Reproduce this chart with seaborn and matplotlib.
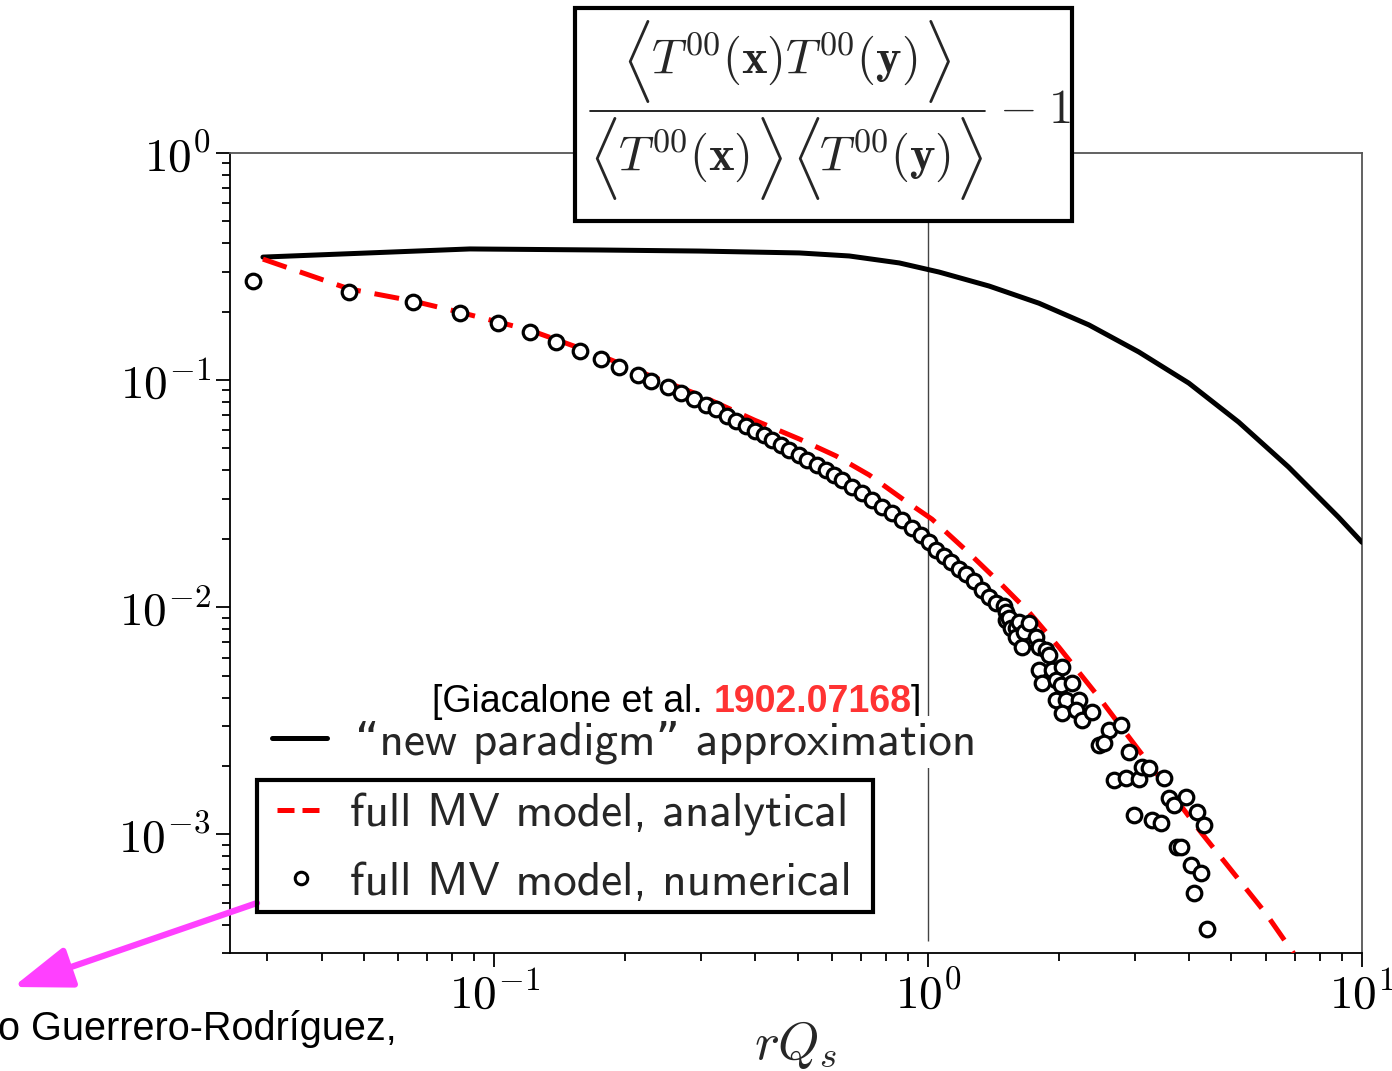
import numpy as np
import pandas as pd
import seaborn as sns
import matplotlib
matplotlib.use("Agg")
import matplotlib.pyplot as plt
from matplotlib.lines import Line2D
from matplotlib.patches import Rectangle
from matplotlib.ticker import FuncFormatter, NullFormatter, LogLocator
from matplotlib.font_manager import FontProperties
from matplotlib.legend_handler import HandlerLine2D

# ---------------- data ----------------
# "new paradigm" approximation (black solid)
np_r = [0.0293, 0.0878, 0.175, 0.297, 0.505, 0.658, 0.858, 1.060, 1.382, 1.801,
        2.347, 3.059, 3.988, 5.197, 6.773, 8.829, 10.0]
np_c = [0.348, 0.378, 0.374, 0.370, 0.363, 0.352, 0.328, 0.299, 0.2595, 0.218,
        0.175, 0.133, 0.0970, 0.0653, 0.0414, 0.0249, 0.0193]

# full MV model, analytical (red dashed)
an_r = [0.0293, 0.0463, 0.0649, 0.0833, 0.1207, 0.176, 0.230, 0.297, 0.398, 0.505,
        0.614, 0.7315, 0.881, 1.021, 1.223, 1.457, 1.708, 2.002, 2.475, 2.901,
        3.492, 4.272, 5.998, 6.955]
an_c = [0.341, 0.252, 0.223, 0.199, 0.166, 0.128, 0.104, 0.0859, 0.0666, 0.0550,
        0.0463, 0.0382, 0.0296, 0.0244, 0.0178, 0.0129, 0.00951, 0.00666, 0.00401, 0.00268,
        0.00168, 0.00101, 0.000449, 0.000299]

# full MV model, numerical (open circles)
num_r = [0.0278, 0.0463, 0.0649, 0.0833, 0.1019, 0.1207, 0.139, 0.158, 0.176, 0.194,
         0.214, 0.230, 0.251, 0.269, 0.288, 0.307, 0.325, 0.343, 0.361, 0.381,
         0.400, 0.419, 0.4375, 0.459, 0.479, 0.505, 0.527, 0.555, 0.582, 0.608,
         0.634, 0.668, 0.705, 0.743, 0.784, 0.826, 0.871, 0.919, 0.964, 1.005,
         1.043, 1.088, 1.129, 1.178, 1.223, 1.276, 1.331, 1.382, 1.434, 1.496,
         1.512, 1.512, 1.536, 1.552, 1.594, 1.594, 1.620, 1.646, 1.663, 1.708,
         1.773, 1.801, 1.869, 1.899, 1.801, 1.929, 2.034, 1.829, 1.970, 2.024,
         2.145, 1.970, 2.078, 2.226, 2.034, 2.191, 2.262, 2.384, 2.610, 2.781,
         2.475, 2.542, 2.901, 2.680, 2.855, 3.059, 3.108, 3.226, 3.492, 3.586,
         3.683, 3.925, 4.160, 4.317, 2.979, 3.278, 3.438, 3.742, 3.821, 4.030,
         4.249, 4.095, 4.386]
num_c = [0.273, 0.244, 0.221, 0.197, 0.178, 0.163, 0.147, 0.134, 0.124, 0.114,
         0.105, 0.0990, 0.0932, 0.0876, 0.0825, 0.0776, 0.0745, 0.0694, 0.0660, 0.0627,
         0.0596, 0.0573, 0.0544, 0.0517, 0.0492, 0.0467, 0.0444, 0.0422, 0.0401, 0.0382,
         0.0363, 0.0338, 0.0318, 0.0296, 0.0276, 0.0260, 0.0242, 0.0223, 0.0208, 0.0193,
         0.0178, 0.0168, 0.0158, 0.0147, 0.0140, 0.0130, 0.0119, 0.0111, 0.0104, 0.0101,
         0.00951, 0.00876, 0.00894, 0.00808, 0.00808, 0.00738, 0.00859, 0.00666, 0.00776, 0.00850,
         0.00738, 0.00666, 0.00646, 0.00615, 0.00528, 0.00528, 0.00544, 0.00463, 0.00477, 0.00453,
         0.00463, 0.00389, 0.00389, 0.00389, 0.00341, 0.00352, 0.00318, 0.00345, 0.00287, 0.00302,
         0.00247, 0.00252, 0.00230, 0.00173, 0.00177, 0.00175, 0.00197, 0.00195, 0.00177, 0.00144,
         0.00134, 0.00146, 0.00125, 0.00110, 0.00121, 0.00115, 0.00112, 0.000876, 0.000876, 0.000730,
         0.000673, 0.000550, 0.000382]

labels = ["\u201cnew paradigm\u201d approximation",
          "full MV model, analytical",
          "full MV model, numerical"]
cite_pre, cite_id, cite_post = "[Giacalone et al. ", "1902.07168", "]"
author_txt = "o Guerrero-Rodr\u00edguez,"
num_tex = r"$T^{00}(\mathbf{x})T^{00}(\mathbf{y})$"
den_x_tex = r"$T^{00}(\mathbf{x})$"
den_y_tex = r"$T^{00}(\mathbf{y})$"
lang_tex, rang_tex = r"$\langle$", r"$\rangle$"
tail_tex = r"$-\;1$"

# ---------------- style ----------------
sns.set_theme(style="ticks")
plt.rcParams["font.family"] = ["DejaVu Sans"]
plt.rcParams["mathtext.fontset"] = "cm"

W, H = 1392, 1071
def fx(px):
    return px / W
def fy(py):
    return 1 - py / H

fig = plt.figure(figsize=(W / 100, H / 100), dpi=100)
fig.patch.set_facecolor("white")
ax = fig.add_axes([fx(230), fy(953), (1362 - 230) / W, (953 - 153) / H])
ax.set_facecolor("white")
ax.set_xscale("log")
ax.set_yscale("log")

df_np = pd.DataFrame({"r": np_r, "c": np_c})
df_an = pd.DataFrame({"r": an_r, "c": an_c})
df_num = pd.DataFrame({"r": num_r, "c": num_c})

ax.vlines(1.0, 3.4e-4, 0.57, colors="#444444", lw=1.0, zorder=1)
sns.lineplot(data=df_np, x="r", y="c", color="black", lw=3.6, ax=ax, zorder=3,
             sort=False, estimator=None)
sns.lineplot(data=df_an, x="r", y="c", color="#ff0000", lw=3.6, ax=ax, zorder=3,
             sort=False, estimator=None, linestyle=(0, (5, 2.8)))
sns.scatterplot(data=df_num, x="r", y="c", marker="o", s=110, color="white",
                edgecolor="black", linewidth=2.3, ax=ax, zorder=4)

ax.set_xlim(0.0246, 10)
ax.set_ylim(3.0e-4, 1.0)

fmt = FuncFormatter(lambda v, p: r"$10^{%d}$" % int(round(np.log10(v))))
for axis in (ax.xaxis, ax.yaxis):
    axis.set_major_locator(LogLocator(base=10, numticks=10))
    axis.set_minor_locator(LogLocator(base=10, subs=np.arange(2, 10), numticks=20))
    axis.set_major_formatter(fmt)
    axis.set_minor_formatter(NullFormatter())
ax.tick_params(which="both", direction="out", top=False, right=False, width=1.3, colors="black")
ax.tick_params(which="major", length=10, labelsize=34)
ax.tick_params(which="minor", length=6)
ax.tick_params(axis="y", which="major", pad=4)
ax.tick_params(axis="x", which="major", pad=4)
for s in ["left", "bottom"]:
    ax.spines[s].set_color("black")
    ax.spines[s].set_linewidth(1.3)
for s in ["top", "right"]:
    ax.spines[s].set_color("#555555")
    ax.spines[s].set_linewidth(1.3)
ax.set_xlabel(r"$rQ_s$", fontsize=38, labelpad=0)
ax.set_ylabel("")

# ---------------- legends ----------------
LFS = 34
em = LFS * 100 / 72
lprop = FontProperties(family=["cmss10", "DejaVu Sans"], size=LFS)
h1 = Line2D([], [], color="black", lw=3.6)
leg1 = ax.legend([h1], [labels[0]], loc="center left",
                 bbox_to_anchor=(fx(272 - 0.1 * em), fy(742)), bbox_transform=fig.transFigure,
                 prop=lprop, frameon=True, fancybox=False, framealpha=1,
                 handlelength=55 / em, handletextpad=28 / em, borderpad=0.1, borderaxespad=0)
leg1.get_frame().set_edgecolor("none")
leg1.get_frame().set_facecolor("white")
ax.add_artist(leg1)

h2 = Line2D([], [], color="#ff0000", lw=3.6, linestyle=(0, (3.4, 1.6)))
h3 = Line2D([], [], ls="none", marker="o", mfc="white", mec="black", mew=2.2, ms=9)
bp = 0.2
xpad = (277 - 257 - bp * em) / em
leg2 = ax.legend([h2, h3], labels[1:], loc="upper left",
                 bbox_to_anchor=(fx(257), fy(784)), bbox_transform=fig.transFigure,
                 prop=lprop, frameon=False,
                 handlelength=(325 - 257 - bp * em) / em, handletextpad=25 / em,
                 borderpad=bp, labelspacing=0.53, borderaxespad=0,
                 handler_map={h2: HandlerLine2D(xpad=xpad), h3: HandlerLine2D(xpad=xpad)})
fig.patches.append(Rectangle((fx(257), fy(912)), (873 - 257) / W, (912 - 780) / H,
                             transform=fig.transFigure, fill=False, ec="black",
                             lw=3, zorder=5))

# ---------------- citation ----------------
t1 = fig.text(fx(432), fy(712), cite_pre, family="Liberation Sans", size=27,
              va="baseline", ha="left", color="black")
t2 = ax.annotate(cite_id, xy=(1, 0), xycoords=t1, va="bottom", ha="left",
                 family="Liberation Sans", size=27, weight="bold", color="#ff3333",
                 annotation_clip=False)
t3 = ax.annotate(cite_post, xy=(1, 0), xycoords=t2, va="bottom", ha="left",
                 family="Liberation Sans", size=27, color="black", annotation_clip=False)

# ---------------- title box ----------------
fig.patches.append(Rectangle((fx(575), fy(221)), 497 / W, 213 / H,
                             transform=fig.transFigure, fc="white", ec="black",
                             lw=3, zorder=5))
TFS = 35
BFS = 50
fig.text(fx(784), fy(73), num_tex, fontsize=TFS, ha="center", va="baseline", zorder=6)
fig.text(fx(684), fy(170), den_x_tex, fontsize=TFS, ha="center", va="baseline", zorder=6)
fig.text(fx(885), fy(170), den_y_tex, fontsize=TFS, ha="center", va="baseline", zorder=6)
for cx, cy, s in [(636, 61.5, lang_tex), (937, 61.5, rang_tex),
                  (603, 158.5, lang_tex), (769, 158.5, rang_tex),
                  (806, 158.5, lang_tex), (969, 158.5, rang_tex)]:
    fig.text(fx(cx), fy(cy), s, fontsize=BFS, ha="center", va="center", zorder=6)
fig.add_artist(Line2D([fx(590), fx(985)], [fy(111), fy(111)], color="black", lw=1.2,
                      transform=fig.transFigure, zorder=6))
fig.text(fx(999), fy(123), tail_tex, fontsize=TFS, ha="left", va="baseline", zorder=6)

# ---------------- arrow + author ----------------
ax.annotate("", xy=(fx(13), fy(987)), xycoords="figure fraction",
            xytext=(fx(257), fy(903)), textcoords="figure fraction",
            arrowprops=dict(arrowstyle="-|>,head_length=0.9,head_width=0.32",
                            color="#ff40ff", lw=4.5, mutation_scale=40,
                            shrinkA=0, shrinkB=0),
            annotation_clip=False, zorder=5)
fig.text(fx(397), fy(1040), author_txt, ha="right", va="baseline",
         family="Liberation Sans", size=28.5, color="black")

fig.savefig("out.png", dpi=100, facecolor="white")
